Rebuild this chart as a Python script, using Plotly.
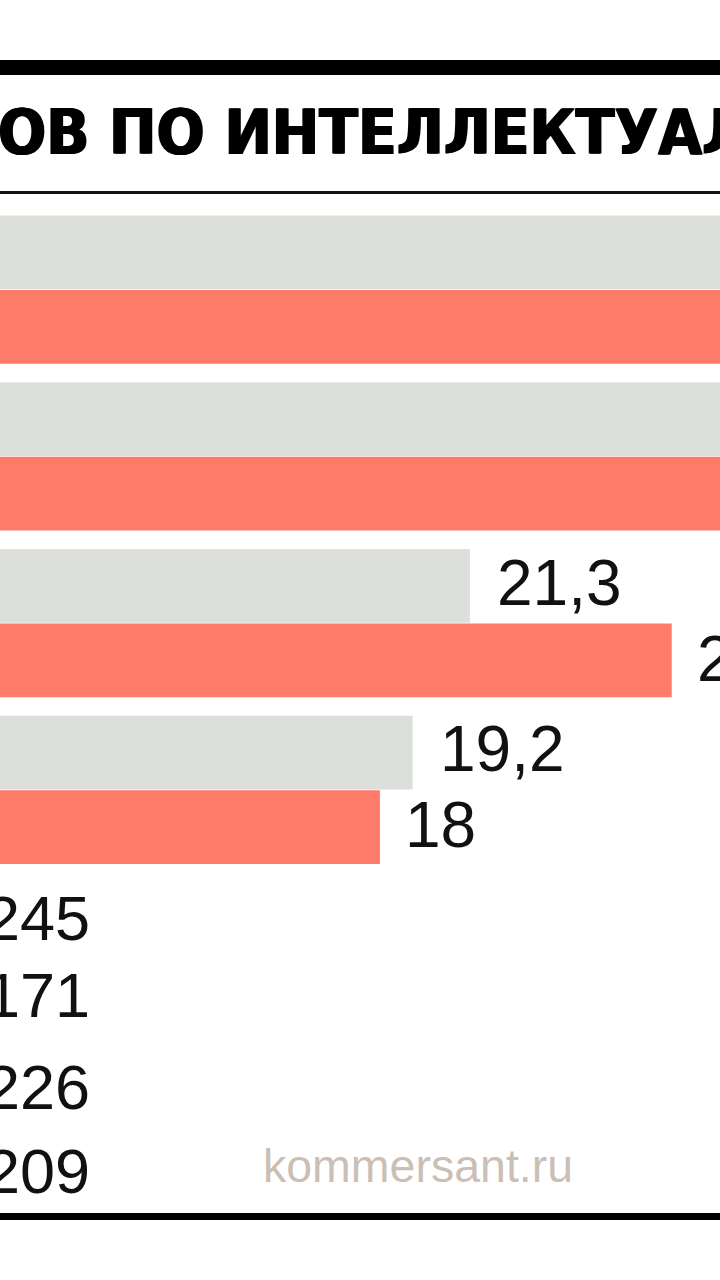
import plotly.graph_objects as go

# ---- data (rows 1-2 run past the right edge) ----
categories = ["Категория 1", "Категория 2", "Категория 3", "Категория 4"]
series_prev = [40.0, 38.0, 21.3, 19.2]     # grey bars
series_curr = [42.0, 36.0, 28.7, 18.0]     # red bars
bottom_numbers = ["245", "171", "226", "209"]
title_text = "ОВ ПО ИНТЕЛЛЕКТУАЛЬНОЙ"
watermark_text = "kommersant.ru"

# ---- styling / layout constants ----
W, H = 720, 1280
GREY = "#dde0da"
RED = "#ff7b69"
NUM_FONT = "Liberation Sans, Arial, Helvetica, sans-serif"
TITLE_FONT = "Liberation Sans Narrow, Arial Narrow, DejaVu Sans Condensed, Liberation Sans, sans-serif"

def py(px):
    """pixel row -> paper y (margins are zero)"""
    return 1 - px / H

def fmt(v):
    return f"{v:g}".replace(".", ",")

fig = go.Figure()
fig.add_bar(y=categories, x=series_prev, orientation="h", name="Прошлый год",
            marker=dict(color=GREY, line=dict(width=0)), hoverinfo="skip")
fig.add_bar(y=categories, x=series_curr, orientation="h", name="Текущий год",
            marker=dict(color=RED, line=dict(width=0)), hoverinfo="skip")

annotations = []
half_bar = 37.5
for i, v in enumerate(series_prev):
    annotations.append(dict(x=v, y=categories[i], xref="x", yref="y", text=fmt(v),
                            xanchor="left", yanchor="middle", xshift=25, yshift=half_bar + 3,
                            showarrow=False, font=dict(family=NUM_FONT, size=64, color="#111111")))
for i, v in enumerate(series_curr):
    annotations.append(dict(x=v, y=categories[i], xref="x", yref="y", text=fmt(v),
                            xanchor="left", yanchor="middle", xshift=23, yshift=-half_bar + 2,
                            showarrow=False, font=dict(family=NUM_FONT, size=64, color="#111111")))

bottom_rows = [918, 995, 1087, 1171]
for txt, row in zip(bottom_numbers, bottom_rows):
    annotations.append(dict(x=-17 / W, y=py(row), xref="paper", yref="paper", text=txt,
                            xanchor="left", yanchor="middle", showarrow=False,
                            font=dict(family=NUM_FONT, size=63, color="#111111")))

annotations.append(dict(x=-4 / W, y=py(132), xref="paper", yref="paper", text=f"<b>{title_text}</b>",
                        xanchor="left", yanchor="middle", showarrow=False,
                        font=dict(family=TITLE_FONT, size=63, color="#000000",
                                  shadow="1px 0px 0px #000000, -1px 0px 0px #000000")))
annotations.append(dict(x=261 / W, y=py(1166), xref="paper", yref="paper", text=watermark_text,
                        xanchor="left", yanchor="middle", showarrow=False,
                        font=dict(family=NUM_FONT, size=46.5, color="#cbbfb5")))

shapes = [
    dict(type="rect", xref="paper", yref="paper", x0=-0.01, x1=1.01, y0=py(75), y1=py(60),
         fillcolor="#000000", line=dict(width=0)),
    dict(type="rect", xref="paper", yref="paper", x0=-0.01, x1=1.01, y0=py(194), y1=py(191),
         fillcolor="#111111", line=dict(width=0)),
    dict(type="rect", xref="paper", yref="paper", x0=-0.01, x1=1.01, y0=py(1220), y1=py(1213),
         fillcolor="#000000", line=dict(width=0)),
]

fig.update_layout(
    width=W, height=H,
    margin=dict(l=0, r=0, t=0, b=0),
    paper_bgcolor="#ffffff", plot_bgcolor="#ffffff",
    barmode="group", bargap=0.107, bargroupgap=0.01,
    showlegend=False,
    separators=", ",
    xaxis=dict(range=[4.07, 30.47], visible=False, fixedrange=True),
    yaxis=dict(type="category", range=[5.938, -1.736], visible=False, fixedrange=True),
    annotations=annotations,
    shapes=shapes,
)

fig.write_html("out.html", config={"displayModeBar": False},
               post_script="document.body.style.margin='0';document.body.style.overflow='hidden';")
